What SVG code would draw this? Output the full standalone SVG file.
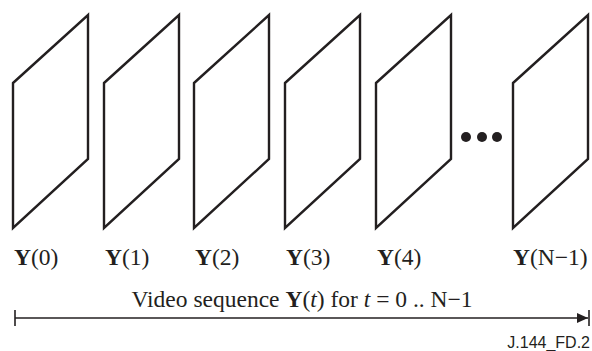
<svg xmlns="http://www.w3.org/2000/svg" width="592" height="351" viewBox="0 0 592 351">
<style>
.frame{fill:#fff;stroke:#231f20;stroke-width:2.4;stroke-linejoin:miter}
.lbl{font-family:"Liberation Serif","Times New Roman",serif;font-size:23.5px;fill:#231f20}
.b{font-weight:bold}
.i{font-style:italic}
.axis{stroke:#231f20;stroke-width:1.6;fill:none}
.dot{fill:#231f20}
.code{font-family:"Liberation Sans",Arial,sans-serif;font-size:16px;fill:#231f20}
</style>
<defs>
<polygon id="pg" class="frame" points="0,68 75,0 75,144 0,213"/>
<marker id="ah" markerWidth="12" markerHeight="10" refX="11" refY="5" orient="auto" markerUnits="userSpaceOnUse">
<polygon points="0,0 11,5 0,10" fill="#231f20"/>
</marker>
</defs>
<g id="frame0"><use href="#pg" x="13" y="15"/><text class="lbl" x="14" y="265"><tspan class="b">Y</tspan>(0)</text></g>
<g id="frame1"><use href="#pg" x="104" y="15"/><text class="lbl" x="105" y="265"><tspan class="b">Y</tspan>(1)</text></g>
<g id="frame2"><use href="#pg" x="194" y="15"/><text class="lbl" x="195" y="265"><tspan class="b">Y</tspan>(2)</text></g>
<g id="frame3"><use href="#pg" x="285" y="15"/><text class="lbl" x="286" y="265"><tspan class="b">Y</tspan>(3)</text></g>
<g id="frame4"><use href="#pg" x="376" y="15"/><text class="lbl" x="377" y="265"><tspan class="b">Y</tspan>(4)</text></g>
<g id="ellipsis"><circle class="dot" cx="466" cy="137" r="5"/><circle class="dot" cx="482" cy="137" r="5"/><circle class="dot" cx="497" cy="137" r="5"/></g>
<g id="frameN"><use href="#pg" x="513" y="15"/><text class="lbl" x="513" y="265"><tspan class="b">Y</tspan>(N−1)</text></g>
<g id="connectors">
<line class="axis" x1="15" y1="310" x2="15" y2="326"/>
<line class="axis" x1="589" y1="310" x2="589" y2="326"/>
<line class="axis" x1="15" y1="318" x2="588" y2="318" marker-end="url(#ah)"/>
</g>
<text class="lbl" x="302" y="307" text-anchor="middle">Video sequence <tspan class="b">Y</tspan>(<tspan class="i">t</tspan>) for <tspan class="i">t</tspan> = 0 .. N−1</text>
<text class="code" x="590" y="348" text-anchor="end">J.144_FD.2</text>
</svg>
